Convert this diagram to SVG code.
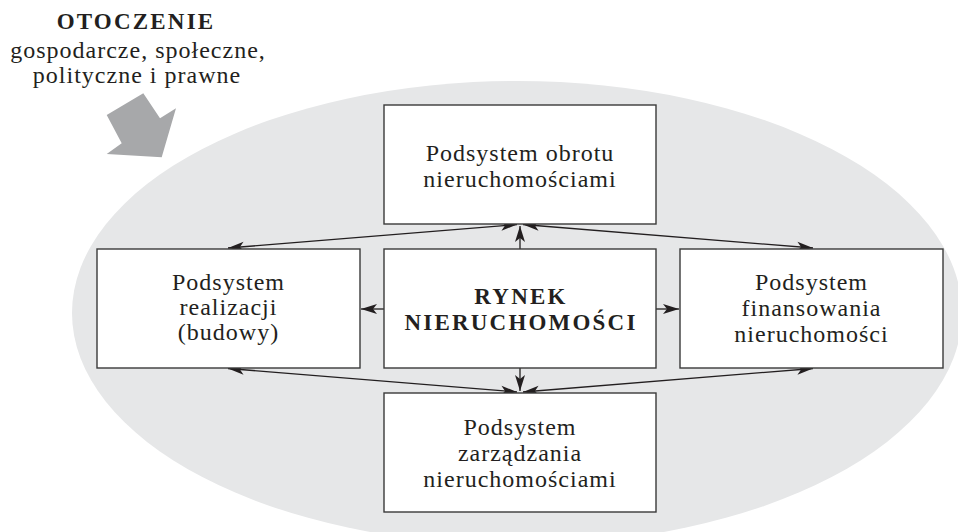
<svg xmlns="http://www.w3.org/2000/svg" width="958" height="532" viewBox="0 0 958 532">
<defs>
<style>
.t{font-family:"Liberation Serif","Times New Roman",serif;font-size:24px;fill:#231f20;text-anchor:middle;letter-spacing:1px}
.b{font-weight:bold;font-size:23px;letter-spacing:2.2px}
.box{fill:#fff;stroke:#3a3a3a;stroke-width:1.4}
.c{stroke:#231f20;stroke-width:1.3;fill:none}
.s{marker-end:url(#ah)}
.d{marker-start:url(#ah);marker-end:url(#ah)}
</style>
<marker id="ah" viewBox="0 0 16 11" refX="16" refY="5.5" markerWidth="16" markerHeight="11" markerUnits="userSpaceOnUse" orient="auto-start-reverse">
<path d="M0,0.5 L16,5.5 L0,10.5 L4,5.5 z" fill="#231f20"/>
</marker>
</defs>
<rect width="958" height="532" fill="#fff"/>
<ellipse cx="517" cy="313" rx="445" ry="232" fill="#e6e7e8"/>
<polygon points="106.7,115 143.3,93.3 160,118.3 176,108.3 161.7,157.3 106.7,154 121.7,143.3" fill="#a7a8aa"/>
<g id="label-otoczenie">
<text class="t b" x="136" y="29">OTOCZENIE</text>
<text class="t" x="138" y="58">gospodarcze, społeczne,</text>
<text class="t" x="137" y="83">polityczne i prawne</text>
</g>
<g id="connectors">
<line class="c d" x1="517" y1="224.5" x2="228" y2="248"/>
<line class="c d" x1="523" y1="224.5" x2="813" y2="248"/>
<line class="c s" x1="520" y1="249" x2="520" y2="226"/>
<line class="c s" x1="384" y1="309" x2="361" y2="309"/>
<line class="c s" x1="656" y1="309" x2="679" y2="309"/>
<line class="c s" x1="520" y1="368" x2="520" y2="391"/>
<line class="c d" x1="517" y1="392" x2="228" y2="368.5"/>
<line class="c d" x1="523" y1="392" x2="813" y2="368.5"/>
</g>
<g id="node-obrot">
<rect class="box" x="384" y="105" width="272" height="119"/>
<text class="t" x="520" y="161">Podsystem obrotu</text>
<text class="t" x="520" y="187">nieruchomościami</text>
</g>
<g id="node-realizacja">
<rect class="box" x="97" y="249" width="263" height="119"/>
<text class="t" x="228.5" y="290">Podsystem</text>
<text class="t" x="228.5" y="315">realizacji</text>
<text class="t" x="228.5" y="340">(budowy)</text>
</g>
<g id="node-rynek">
<rect class="box" x="384" y="249" width="272" height="119"/>
<text class="t b" x="521" y="304">RYNEK</text>
<text class="t b" x="521" y="330">NIERUCHOMOŚCI</text>
</g>
<g id="node-finansowanie">
<rect class="box" x="680" y="249" width="263" height="119"/>
<text class="t" x="811.5" y="290">Podsystem</text>
<text class="t" x="811.5" y="316">finansowania</text>
<text class="t" x="811.5" y="342">nieruchomości</text>
</g>
<g id="node-zarzadzanie">
<rect class="box" x="384" y="393" width="272" height="119"/>
<text class="t" x="520" y="435">Podsystem</text>
<text class="t" x="520" y="461">zarządzania</text>
<text class="t" x="520" y="487">nieruchomościami</text>
</g>
</svg>
